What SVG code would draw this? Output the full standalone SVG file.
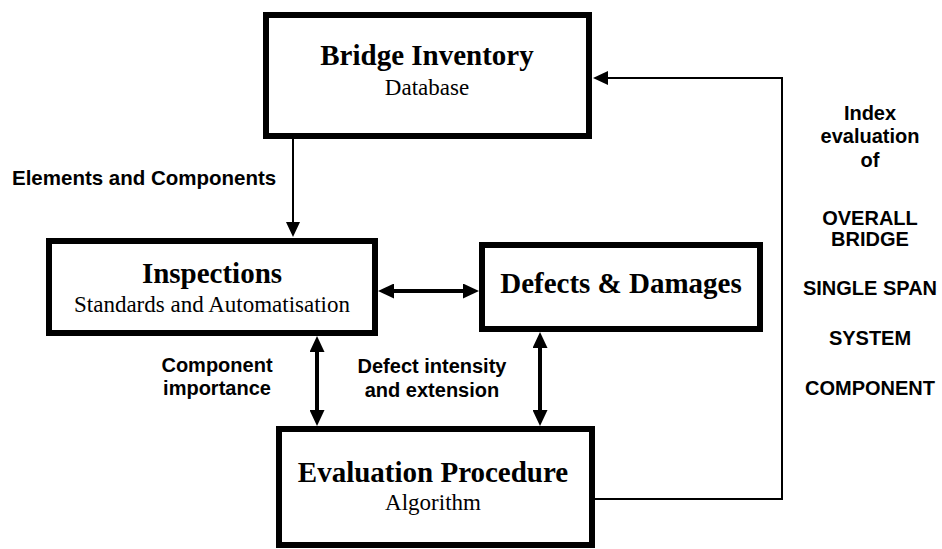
<svg xmlns="http://www.w3.org/2000/svg" width="942" height="549" viewBox="0 0 942 549">
  <style>
    .box { fill: #fff; stroke: #000; stroke-width: 6; }
    .title { font-family: "Liberation Serif", "Times New Roman", serif; font-weight: bold; font-size: 29px; fill: #000; text-anchor: middle; }
    .sub { font-family: "Liberation Serif", "Times New Roman", serif; font-size: 23px; fill: #000; text-anchor: middle; }
    .lbl { font-family: "Liberation Sans", Arial, sans-serif; font-weight: bold; font-size: 20px; fill: #000; }
    .mid { text-anchor: middle; }
    .thin { fill: none; stroke: #000; stroke-width: 2; }
    .thick { fill: none; stroke: #000; stroke-width: 4; }
  </style>
  <defs>
    <marker id="headThin" markerUnits="userSpaceOnUse" viewBox="0 0 15 14" refX="1" refY="7" markerWidth="15" markerHeight="14" orient="auto-start-reverse">
      <path d="M0,0 L15,7 L0,14 z" fill="#000"/>
    </marker>
    <marker id="headThick" markerUnits="userSpaceOnUse" viewBox="0 0 16 15" refX="1" refY="7.5" markerWidth="16" markerHeight="15" orient="auto-start-reverse">
      <path d="M0,0 L16,7.5 L0,15 z" fill="#000"/>
    </marker>
  </defs>
  <rect width="942" height="549" fill="#fff"/>

  <g id="connectors">
    <path class="thin" d="M293,139 V223" marker-end="url(#headThin)"/>
    <path class="thick" d="M393,291 H464" marker-start="url(#headThick)" marker-end="url(#headThick)"/>
    <path class="thick" d="M317,351 V411" marker-start="url(#headThick)" marker-end="url(#headThick)"/>
    <path class="thick" d="M540,347 V411" marker-start="url(#headThick)" marker-end="url(#headThick)"/>
    <path class="thin" d="M595,499 H782 V78 H607" marker-end="url(#headThin)"/>
  </g>

  <g id="bridge-inventory">
    <rect class="box" x="266" y="15" width="323" height="121"/>
    <text class="title" x="427" y="65">Bridge Inventory</text>
    <text class="sub" x="427" y="95">Database</text>
  </g>

  <g id="inspections">
    <rect class="box" x="49" y="241" width="326" height="92"/>
    <text class="title" x="212" y="283">Inspections</text>
    <text class="sub" x="212" y="312">Standards and Automatisation</text>
  </g>

  <g id="defects-damages">
    <rect class="box" x="482" y="245" width="278" height="84"/>
    <text class="title" x="621" y="293">Defects &amp; Damages</text>
  </g>

  <g id="evaluation-procedure">
    <rect class="box" x="279" y="429" width="313" height="116"/>
    <text class="title" x="433" y="482">Evaluation Procedure</text>
    <text class="sub" x="433" y="510">Algorithm</text>
  </g>

  <g id="labels">
    <text class="lbl" x="12" y="185" style="font-size:20.5px">Elements and Components</text>
    <text class="lbl mid" x="217" y="372">Component</text>
    <text class="lbl mid" x="217" y="395">importance</text>
    <text class="lbl mid" x="432" y="373">Defect intensity</text>
    <text class="lbl mid" x="432" y="397">and extension</text>
    <text class="lbl mid" x="870" y="120">Index</text>
    <text class="lbl mid" x="870" y="143">evaluation</text>
    <text class="lbl mid" x="870" y="167">of</text>
    <text class="lbl mid" x="870" y="225">OVERALL</text>
    <text class="lbl mid" x="870" y="246">BRIDGE</text>
    <text class="lbl mid" x="870" y="295">SINGLE SPAN</text>
    <text class="lbl mid" x="870" y="345">SYSTEM</text>
    <text class="lbl mid" x="870" y="395">COMPONENT</text>
  </g>
</svg>
